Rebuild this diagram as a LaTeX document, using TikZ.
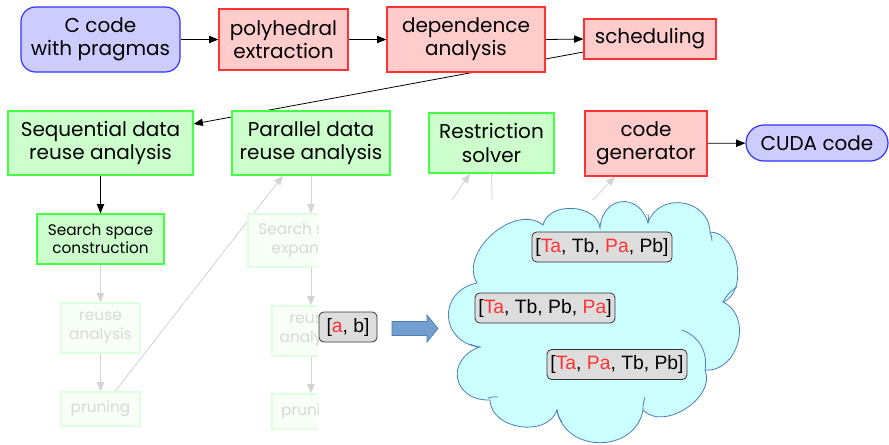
\documentclass[tikz,border=0pt]{standalone}
\usepackage{fontspec}
\setmainfont{Poppins}
\newfontfamily\arialf{Liberation Sans}
\usetikzlibrary{arrows.meta,backgrounds,calc}
\definecolor{bfill}{HTML}{CCCCFF}
\definecolor{bdraw}{HTML}{3333FF}
\definecolor{rfill}{HTML}{FFCCCC}
\definecolor{rdraw}{HTML}{FF3333}
\definecolor{gfill}{HTML}{CCFFCC}
\definecolor{gdraw}{HTML}{44FF44}
\definecolor{ffill}{HTML}{F7FFF7}
\definecolor{fdraw}{HTML}{E0FFE0}
\definecolor{ftext}{HTML}{D8D8D8}
\definecolor{fline}{HTML}{D4D4D4}
\definecolor{cloudfill}{HTML}{CCFFFF}
\definecolor{clouddraw}{HTML}{4A7EBB}
\definecolor{arrowfill}{HTML}{729FCF}
\definecolor{arrowdraw}{HTML}{4A7EBB}
\definecolor{lblfill}{HTML}{DDDDDD}
\definecolor{redtxt}{HTML}{FF3333}
\tikzset{
  box/.style={draw, line width=0.9pt, align=center, inner sep=0pt, font=\fontsize{15}{17.5}\selectfont},
  bluebox/.style={box, fill=bfill, draw=bdraw, rounded corners=11pt},
  redbox/.style={box, fill=rfill, draw=rdraw},
  greenbox/.style={box, fill=gfill, draw=gdraw},
  smallgreen/.style={greenbox, font=\fontsize{11.5}{14}\selectfont},
  faded/.style={draw=fdraw, fill=ffill, text=ftext, line width=0.9pt, align=center, inner sep=0pt, font=\fontsize{11.5}{14}\selectfont},
  conn/.style={-{Triangle[length=7pt,width=5.5pt]}, line width=0.6pt},
  fconn/.style={conn, draw=fline, fill=fline},
  lbl/.style={draw=black!80, fill=lblfill, rounded corners=3.5pt, font=\arialf\fontsize{14.5}{16}\selectfont, inner sep=0pt, line width=0.6pt},
  stub/.style={draw=clouddraw, line width=0.6pt},
}
\newcommand{\rt}[1]{\textcolor{redtxt}{#1}}
\begin{document}
\begin{tikzpicture}[x=0.75pt,y=-0.75pt]
\useasboundingbox (0,0) rectangle (889,444);
% top row
\node[bluebox, minimum width=119.25pt, minimum height=48.75pt] (cc) at (100.5,39.5) {C code\\with pragmas};
\node[redbox, minimum width=96.75pt, minimum height=45.75pt] (poly) at (283.5,39.5) {polyhedral\\extraction};
\node[redbox, minimum width=118.5pt, minimum height=48.75pt] (dep) at (466,39.5) {dependence\\analysis};
\node[redbox, minimum width=99pt, minimum height=30pt] (sched) at (650,39) {scheduling};
% second row
\node[greenbox, minimum width=138.75pt, minimum height=48pt] (seq) at (100.5,143) {Sequential data\\reuse analysis};
\node[greenbox, minimum width=118.5pt, minimum height=48pt] (par) at (311,143) {Parallel data\\reuse analysis};
\node[greenbox, minimum width=93.75pt, minimum height=45pt] (restr) at (491.5,143) {Restriction\\solver};
\node[redbox, minimum width=91.5pt, minimum height=48.75pt] (cgen) at (646,143.5) {code\\generator};
\node[bluebox, rounded corners=13.5pt, minimum width=106.5pt, minimum height=27pt] (cuda) at (817,143) {CUDA code};
% first column
\node[smallgreen, minimum width=95.25pt, minimum height=37.5pt] (ssc) at (100.5,239) {Search space\\construction};
\node[faded, minimum width=59.25pt, minimum height=37.5pt] (ra1) at (100.5,328) {reuse\\analysis};
\node[faded, minimum width=59.25pt, minimum height=25.5pt] (pr1) at (100.5,409) {pruning};
% second column (clipped)
\begin{scope}
\clip (0,0) rectangle (318,444);
\node[faded, minimum width=94.5pt, minimum height=39.75pt] (sse) at (311,240.5) {Search space\\expansion};
\node[faded, minimum width=58.5pt, minimum height=37.5pt] (ra2) at (311,331) {reuse\\analysis};
\node[faded, minimum width=58.5pt, minimum height=26.25pt] (pr2) at (311,411.5) {pruning};
\end{scope}
\coordinate (r1) at (452,200);
\coordinate (r2) at (492,200);
\coordinate (g1) at (593,200);
% connectors
\begin{scope}[on background layer]
\draw[conn] (cc) -- (poly);
\draw[conn] (poly) -- (dep);
\draw[conn] (dep.east) -- (sched.west);
\draw[conn] ([yshift=-9.75pt]sched.west) -- ([yshift=14.25pt]seq.east);
\draw[conn] (seq) -- (ssc);
\draw[conn] (cgen) -- (cuda);
\draw[fconn] (ssc) -- (ra1);
\draw[fconn] (ra1) -- (pr1);
\draw[fconn] ([xshift=10.9pt]pr1.north) -- ([xshift=-21pt]par.south);
\draw[fconn] (par) -- (sse);
\draw[fconn] (sse) -- (ra2);
\draw[fconn] (ra2) -- (pr2);
\draw[fconn] (r1) -- ([xshift=-16.1pt]restr.south);
\draw[draw=fline, line width=0.6pt] (restr.south) -- (r2);
\draw[fconn] (g1) -- ([xshift=-23.25pt]cgen.south);
\end{scope}
% cloud
\draw[fill=cloudfill, draw=clouddraw, line width=0.6pt]
 (543,225) to[bend left=80, looseness=1.1] (600,228)
 to[bend left=80, looseness=1.72] (648,223)
 to[bend left=80, looseness=1.37] (710,232)
 to[bend left=80, looseness=1.0] (723,302)
 to[bend left=80, looseness=1.22] (705,370)
 to[bend left=80, looseness=1.03] (643,410)
 to[bend left=80, looseness=1.32] (557,410)
 to[bend left=80, looseness=1.12] (490,400)
 to[bend left=80, looseness=1.75] (479,347)
 to[bend left=80, looseness=1.6] (477,283)
 to[bend left=80, looseness=1.05] cycle;
% cloud inner stubs
\draw[stub] (648,214) to[bend left=10] (648,223);
\draw[stub] (710,232) to[bend left=10] (712,241);
\draw[stub] (723,302) to[bend left=15] (737,287);
\draw[stub] (682,330) to[bend left=40] (705,370);
\draw[stub] (643,410) to[bend left=10] (645,397);
\draw[stub] (557,410) to[bend right=15] (562,422);
\draw[stub] (488,398) to[bend left=10] (498,397);
\draw[stub] (470,344) to[bend right=10] (481,347);
% block arrow
\draw[fill=arrowfill, draw=arrowdraw, line width=0.5pt]
 (392,321.5) -- (427,321.5) -- (427,315) -- (438,328.5) -- (427,342) -- (427,335.5) -- (392,335.5) -- cycle;
% labels
\node[lbl, minimum width=43.5pt, minimum height=22.5pt] (ab) at (348,327) {[\rt{a}, b]};
\node[lbl, minimum width=105pt, minimum height=22.5pt] (l1) at (602,247) {[\rt{Ta}, Tb, \rt{Pa}, Pb]};
\node[lbl, minimum width=105pt, minimum height=22.5pt] (l2) at (545,308) {[\rt{Ta}, Tb, Pb, \rt{Pa}]};
\node[lbl, minimum width=105pt, minimum height=22.5pt] (l3) at (617,364.5) {[\rt{Ta}, \rt{Pa}, Tb, Pb]};
\end{tikzpicture}
\end{document}
